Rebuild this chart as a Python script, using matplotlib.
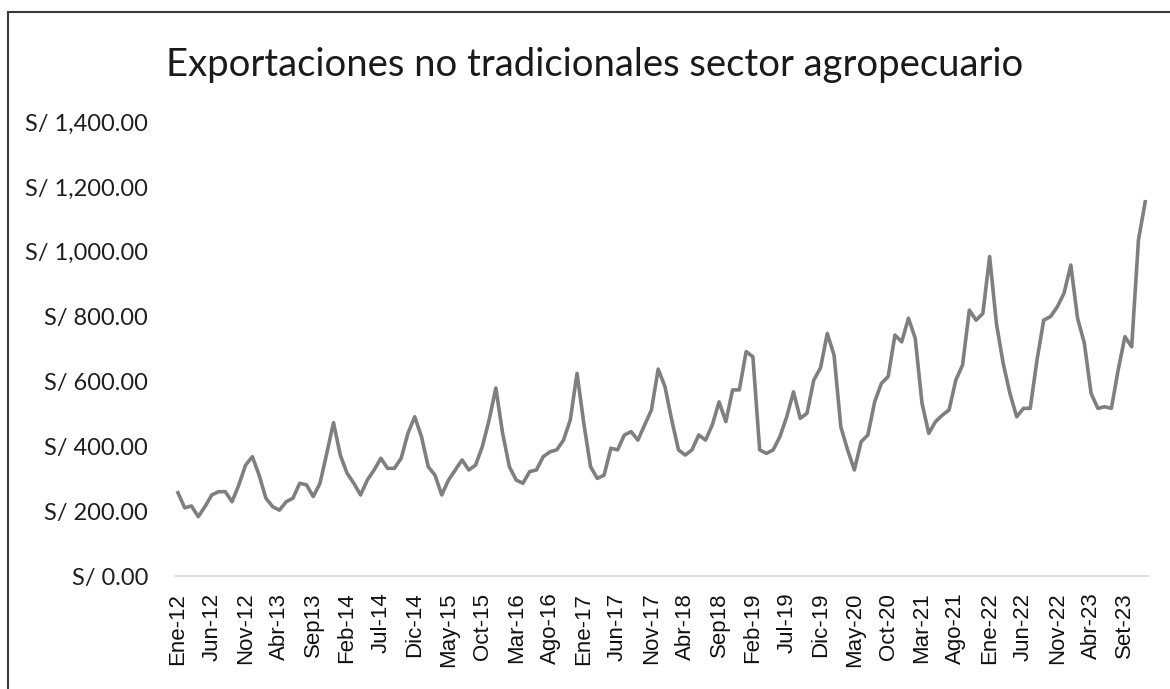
import matplotlib.pyplot as plt
from matplotlib.patches import Rectangle
from matplotlib.ticker import FuncFormatter

# monthly values, Ene-12 .. Dic-23 (144 months)
valores = [
    257, 210, 216, 183, 214, 250, 260, 260, 229, 281, 342, 368,
    311, 240, 214, 203, 229, 240, 286, 281, 245, 286, 378, 473,
    373, 317, 286, 250, 296, 327, 363, 332, 332, 363, 440, 491,
    430, 337, 311, 250, 296, 327, 358, 327, 342, 399, 481, 580,
    440, 337, 296, 286, 322, 327, 368, 383, 389, 419, 481, 625,
    471, 337, 301, 311, 394, 389, 435, 445, 419, 466, 512, 638,
    584, 481, 389, 373, 389, 435, 419, 466, 537, 476, 574, 574,
    692, 676, 389, 378, 389, 430, 491, 568, 486, 502, 604, 642,
    748, 681, 460, 389, 327, 414, 435, 537, 594, 615, 743, 722,
    795, 733, 533, 440, 476, 496, 512, 604, 651, 820, 789, 810,
    985, 779, 656, 563, 491, 517, 517, 666, 789, 800, 830, 872,
    959, 795, 718, 563, 517, 522, 517, 635, 738, 707, 1036, 1154,
]

etiquetas = ["Ene-12", "Jun-12", "Nov-12", "Abr-13", "Sep13", "Feb-14", "Jul-14",
             "Dic-14", "May-15", "Oct-15", "Mar-16", "Ago-16", "Ene-17", "Jun-17",
             "Nov-17", "Abr-18", "Sep18", "Feb-19", "Jul-19", "Dic-19", "May-20",
             "Oct-20", "Mar-21", "Ago-21", "Ene-22", "Jun-22", "Nov-22", "Abr-23",
             "Set-23"]
pos_etiquetas = [i * 5 for i in range(len(etiquetas))]

plt.rcParams['font.family'] = ['Lato', 'DejaVu Sans']

fig = plt.figure(figsize=(11.7, 6.89), dpi=100)
# chart frame (right and bottom edges fall outside the picture)
fig.patches.append(Rectangle((8 / 1170, -0.05), 1.1, 1.05 - 12 / 689,
                             transform=fig.transFigure, fill=False,
                             edgecolor='#3a3a3a', linewidth=1.5))

ax = fig.add_axes([0.1492, 0.164, 0.9817 - 0.1492, 0.8229 - 0.164])
ax.plot(range(len(valores)), valores, color='#7f7f7f', linewidth=2.6,
        solid_joinstyle='round')

ax.set_xlim(-0.5, len(valores) - 0.5)
ax.set_ylim(0, 1400)
ax.set_yticks(range(0, 1401, 200))
ax.yaxis.set_major_formatter(FuncFormatter(lambda v, p: 'S/ {:,.2f}'.format(v)))
ax.set_xticks(pos_etiquetas)
ax.set_xticklabels(etiquetas, rotation=90, family=['Liberation Sans', 'DejaVu Sans'])

for s in ['top', 'right', 'left']:
    ax.spines[s].set_visible(False)
ax.spines['bottom'].set_color('#d9d9d9')
ax.spines['bottom'].set_linewidth(1.2)
ax.tick_params(axis='y', length=0, pad=19, labelsize=17, labelcolor='#1e1e1e')
ax.tick_params(axis='x', length=0, pad=12, labelsize=16, labelcolor='#111111')

fig.text(0.508, 0.905, 'Exportaciones no tradicionales sector agropecuario',
         ha='center', va='center', fontsize=27.5, color='#1a1a1a')

fig.savefig('out.png', dpi=100)
